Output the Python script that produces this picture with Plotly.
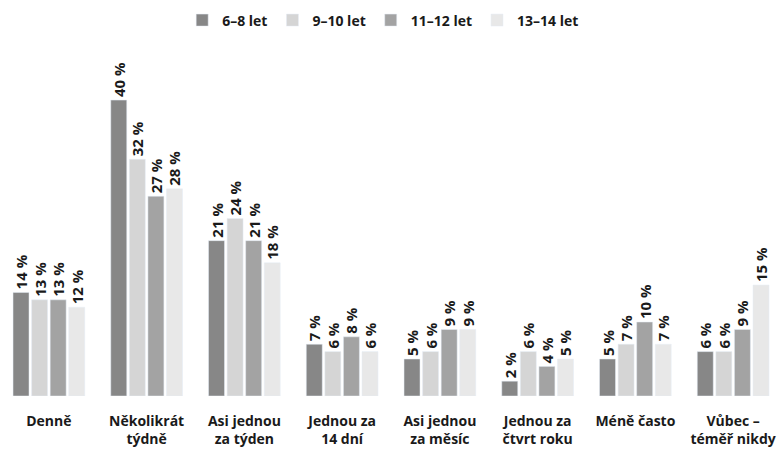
import plotly.graph_objects as go

categories = ["Denně", "Několikrát<br>týdně", "Asi jednou<br>za týden", "Jednou za<br>14 dní",
              "Asi jednou<br>za měsíc", "Jednou za<br>čtvrt roku", "Méně často", "Vůbec –<br>téměř nikdy"]
series_names = ["6–8 let", "9–10 let", "11–12 let", "13–14 let"]
v_6_8 = [14, 40, 21, 7, 5, 2, 5, 6]
v_9_10 = [13, 32, 24, 6, 6, 6, 7, 6]
v_11_12 = [13, 27, 21, 8, 9, 4, 10, 9]
v_13_14 = [12, 28, 18, 6, 9, 5, 7, 15]
colors = ["#878787", "#d5d5d5", "#a3a3a3", "#e8e8e8"]

fig = go.Figure()
for name, vals, col in zip(series_names, [v_6_8, v_9_10, v_11_12, v_13_14], colors):
    fig.add_trace(go.Bar(
        x=categories, y=vals, name=name, marker_color=col,
        text=[f"{v} %" for v in vals], textposition="outside", textangle=-90,
        textfont=dict(family="Open Sans", size=15, color="#1a1a1a", weight="bold"),
        cliponaxis=False,
    ))

fig.update_layout(
    width=782, height=450,
    margin=dict(l=0, r=0, t=52, b=54, autoexpand=False),
    plot_bgcolor="white", paper_bgcolor="white",
    barmode="group", bargap=0.24, bargroupgap=0.14,
    font=dict(family="Open Sans", size=14, color="#1a1a1a"),
    legend=dict(orientation="h", x=0.49, xanchor="center", y=0.99, yanchor="top",
                yref="container", font=dict(size=14, weight="bold"),
                itemwidth=30, traceorder="normal"),
    showlegend=True,
    uniformtext=dict(mode="show", minsize=15),
)
fig.update_xaxes(showline=False, ticks="", automargin=False, ticklabelstandoff=15,
                 tickfont=dict(size=14, weight="bold"))
fig.update_yaxes(visible=False, range=[0, 46.5])
fig.write_html("out.html", config={"displayModeBar": False},
               post_script="document.body.style.margin='0';")
